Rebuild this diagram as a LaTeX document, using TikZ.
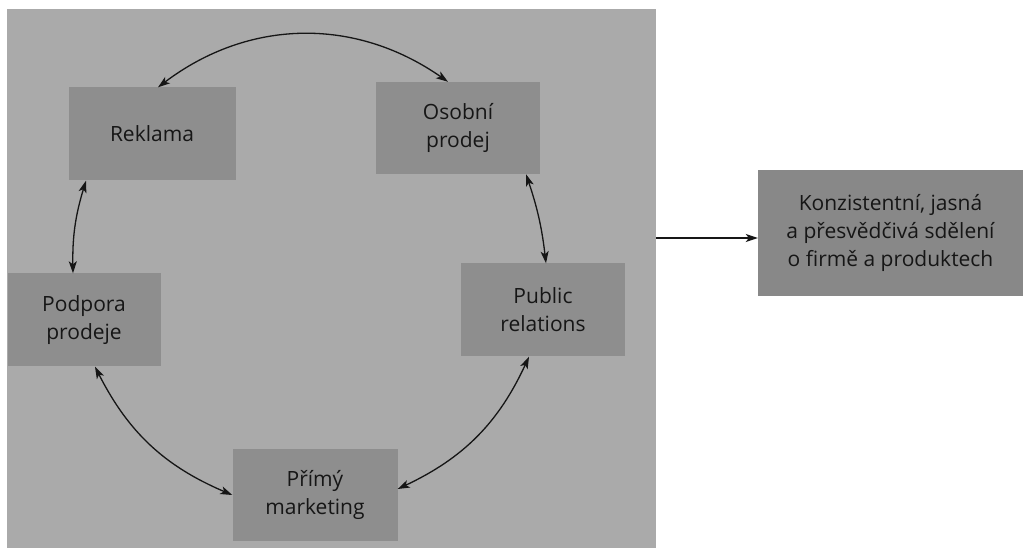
\documentclass[tikz,border=0pt]{standalone}
\usepackage{fontspec}
\setmainfont{Open Sans}
\usetikzlibrary{arrows.meta}

\definecolor{panelgray}{RGB}{170,170,170}
\definecolor{boxgray}{RGB}{142,142,142}
\definecolor{resultgray}{RGB}{136,136,136}
\definecolor{inkdark}{RGB}{22,22,22}

\tikzset{
  tool/.style={rectangle, fill=boxgray, text=inkdark, align=center,
    inner sep=0pt, font=\fontsize{21}{28}\selectfont},
  tip/.style={Stealth[length=12pt,width=8pt,inset=3pt]},
  link/.style={line width=1.3pt, draw=inkdark, {Stealth[length=12pt,width=8pt,inset=3pt]}-{Stealth[length=12pt,width=8pt,inset=3pt]}},
  flow/.style={line width=1.3pt, draw=inkdark, -{Stealth[length=12pt,width=8pt,inset=3pt]}}
}

\begin{document}
\begin{tikzpicture}[x=1pt,y=1pt]
  \useasboundingbox (0,0) rectangle (1023,548);
  \fill[white] (0,0) rectangle (1023,548);

  % background panel holding the communication mix
  \node[rectangle, fill=panelgray, minimum width=649pt, minimum height=539pt,
        inner sep=0pt] (panel) at (331.5,269.5) {};

  % the five tools
  \node[tool, minimum width=167pt, minimum height=93pt] (rek) at (152,414) {Reklama};
  \node[tool, minimum width=164pt, minimum height=92pt] (osp) at (458,420) {Osobní\\prodej};
  \node[tool, minimum width=153pt, minimum height=93pt] (pod) at (84,228) {Podpora\\prodeje};
  \node[tool, minimum width=164pt, minimum height=93pt] (pr)  at (543,238) {Public\\relations};
  \node[tool, minimum width=165pt, minimum height=92pt] (pm)  at (315,53) {Přímý\\marketing};

  % resulting message
  \node[tool, fill=resultgray, minimum width=265pt, minimum height=126pt] (conc) at (890.5,315)
    {Konzistentní, jasná\\a přesvědčivá sdělení\\o firmě a produktech};

  % two-way links around the circle
  \draw[link] ([xshift=6pt]rek.north) to[bend left=36] ([xshift=-10pt]osp.north);
  \draw[link] ([xshift=-66pt]rek.south) to[bend right=9] ([xshift=-11pt]pod.north);
  \draw[link] ([xshift=68pt]osp.south) to[bend left=6] ([xshift=3pt]pr.north);
  \draw[link] ([xshift=11pt]pod.south) to[bend right=20] (pm.west);
  \draw[link] ([xshift=-14pt]pr.south) to[bend left=20] ([yshift=6pt]pm.east);

  % from the mix to the message
  \draw[flow] ([yshift=-5pt]conc.west -| panel.east) -- ([yshift=-5pt]conc.west);
\end{tikzpicture}
\end{document}
